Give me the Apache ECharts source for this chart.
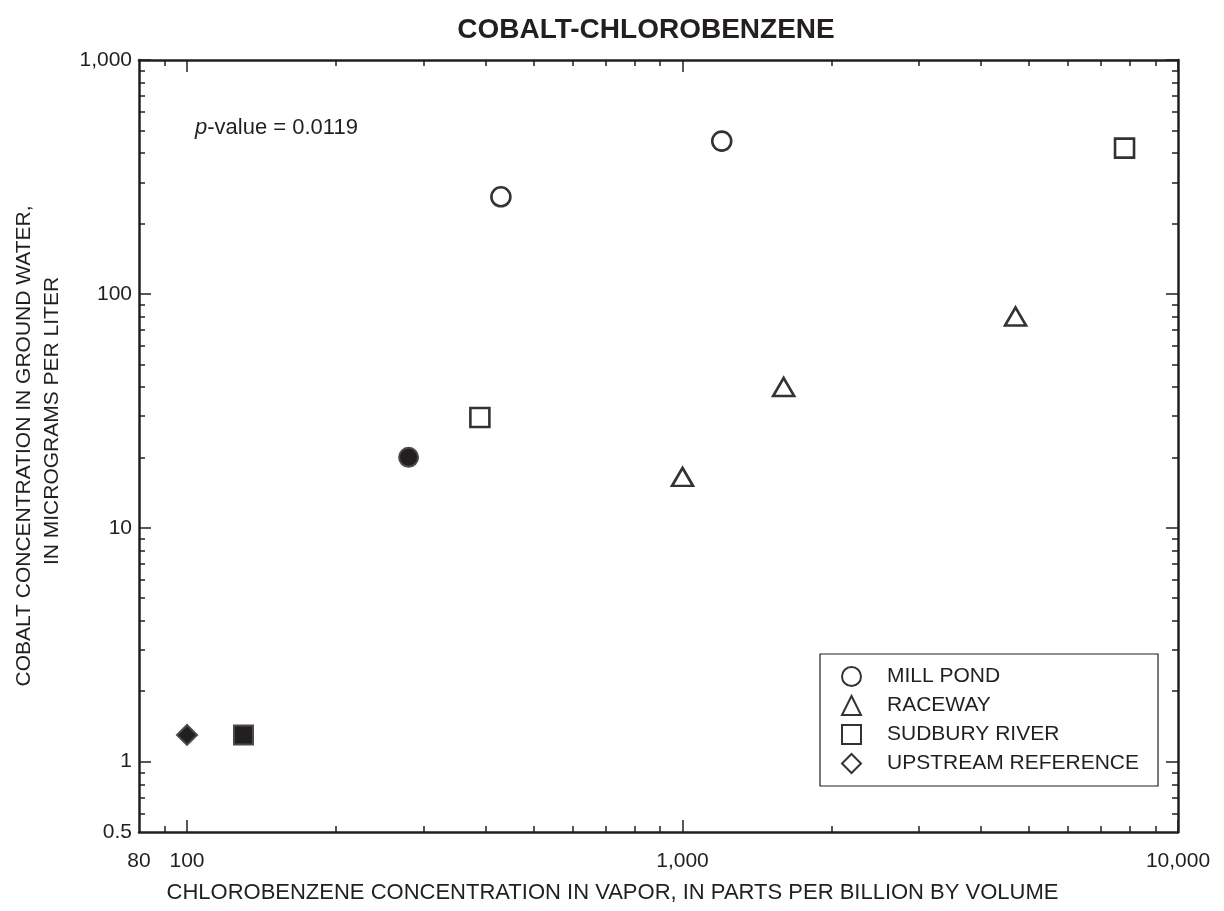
<!DOCTYPE html>
<html>
<head>
<meta charset="utf-8">
<title>COBALT-CHLOROBENZENE</title>
<script src="https://cdn.jsdelivr.net/npm/echarts@6/dist/echarts.min.js"></script>
<style>
  html, body { margin: 0; padding: 0; background: #fff; }
  #chart { width: 1224px; height: 911px; }
</style>
</head>
<body>
<div id="chart"></div>
<script>
// 軸刻度
const xLabelValues = [80, 100, 1000, 10000]
const xMajorTicks = [100, 1000, 10000]
const xMinorTicks = [90, 200, 300, 400, 500, 600, 700, 800, 900,
  2000, 3000, 4000, 5000, 6000, 7000, 8000, 9000]
const yLabelValues = [0.5, 1, 10, 100, 1000]
const yMajorTicks = [1, 10, 100, 1000]
const yMinorTicks = [0.6, 0.7, 0.8, 0.9, 2, 3, 4, 5, 6, 7, 8, 9,
  20, 30, 40, 50, 60, 70, 80, 90, 200, 300, 400, 500, 600, 700, 800, 900]

// 資料點 (x = chlorobenzene ppbv, y = cobalt ug/L)
const millPondX = [430, 1200]
const millPondY = [260, 450]
const millPondFilledX = [280]
const millPondFilledY = [20]
const racewayX = [1000, 1600, 4700]
const racewayY = [16.5, 40, 80]
const sudburyX = [390, 7800]
const sudburyY = [29.6, 420]
const sudburyFilledX = [130]
const sudburyFilledY = [1.3]
const upstreamFilledX = [100]
const upstreamFilledY = [1.3]

const ink = '#231f20'
const font = 'Liberation Sans, Arial, Helvetica, sans-serif'

const fmt = v => Number(v).toLocaleString('en-US')

const openStyle = { color: '#fff', borderColor: '#333', borderWidth: 2.6, opacity: 1 }
const filledStyle = { color: ink, borderColor: '#4a4a4a', borderWidth: 2, opacity: 1 }

const pairs = (xs, ys) => xs.map((x, i) => [x, ys[i]])
const filled = (xs, ys) => xs.map((x, i) => ({ value: [x, ys[i]], itemStyle: filledStyle }))

// 建立一條對數軸 (主刻度或次刻度)
const makeAxis = (position, min, max, ticks, len, opts) => Object.assign({
  type: 'log',
  logBase: 10,
  position: position,
  min: min,
  max: max,
  gridIndex: 0,
  splitLine: { show: false },
  axisLine: { show: false },
  axisTick: {
    show: true,
    inside: true,
    length: len,
    customValues: ticks,
    lineStyle: { color: ink, width: 1.5 }
  },
  axisLabel: { show: false },
  minorTick: { show: false }
}, opts || {})

const boldLine = { show: true, lineStyle: { color: ink, width: 2.5 } }

const chart = echarts.init(document.getElementById('chart'))

const option = {
  backgroundColor: '#fff',
  animation: false,
  title: [
    {
      text: 'COBALT-CHLOROBENZENE',
      left: 641,
      textAlign: 'center',
      top: 11,
      textStyle: { fontFamily: font, fontSize: 28, fontWeight: 'bold', color: ink }
    },
    {
      text: '{i|p}{n|-value = 0.0119}',
      left: 190,
      top: 112,
      textStyle: {
        fontWeight: 'normal',
        rich: {
          i: { fontFamily: font, fontSize: 22, fontStyle: 'italic', fontWeight: 'normal', color: ink },
          n: { fontFamily: font, fontSize: 22, fontWeight: 'normal', color: ink }
        }
      }
    }
  ],
  grid: { left: 139, right: 46, top: 60, bottom: 79, containLabel: false },
  legend: {
    orient: 'vertical',
    left: 820,
    top: 654,
    padding: [12, 19, 12, 21],
    itemWidth: 19,
    itemHeight: 19,
    itemGap: 8,
    symbolKeepAspect: true,
    borderColor: ink,
    borderWidth: 1.2,
    backgroundColor: '#fff',
    selectedMode: false,
    textStyle: { fontFamily: font, fontSize: 21, color: ink, lineHeight: 19, padding: [0, 0, 0, 21] },
    data: ['MILL POND', 'RACEWAY', 'SUDBURY RIVER', 'UPSTREAM REFERENCE']
  },
  xAxis: [
    makeAxis('bottom', 80, 10000, xMajorTicks, 12, {
      axisLine: boldLine,
      axisLabel: {
        show: true,
        customValues: xLabelValues,
        formatter: fmt,
        margin: 19,
        fontFamily: font,
        fontSize: 21,
        color: ink
      },
      name: 'CHLOROBENZENE CONCENTRATION IN VAPOR, IN PARTS PER BILLION BY VOLUME',
      nameLocation: 'middle',
      nameGap: 50,
      nameTextStyle: { fontFamily: font, fontSize: 22, color: ink, padding: [0, 92, 0, 0] }
    }),
    makeAxis('bottom', 80, 10000, xMinorTicks, 6),
    makeAxis('top', 80, 10000, xMajorTicks, 12, { axisLine: boldLine }),
    makeAxis('top', 80, 10000, xMinorTicks, 6)
  ],
  yAxis: [
    makeAxis('left', 0.5, 1000, yMajorTicks, 12, {
      axisLine: boldLine,
      axisLabel: {
        show: true,
        customValues: yLabelValues,
        formatter: fmt,
        margin: 7,
        fontFamily: font,
        fontSize: 21,
        color: ink
      },
      name: 'COBALT CONCENTRATION IN GROUND WATER,',
      nameLocation: 'middle',
      nameRotate: 90,
      nameGap: 101,
      nameTextStyle: { fontFamily: font, fontSize: 21, color: ink, lineHeight: 28 }
    }),
    makeAxis('left', 0.5, 1000, yMinorTicks, 6, {
      name: 'IN MICROGRAMS PER LITER',
      nameLocation: 'middle',
      nameRotate: 90,
      nameGap: 73,
      nameTextStyle: { fontFamily: font, fontSize: 21, color: ink, lineHeight: 28, padding: [0, 0, 0, 50] }
    }),
    makeAxis('right', 0.5, 1000, yMajorTicks, 12, { axisLine: boldLine }),
    makeAxis('right', 0.5, 1000, yMinorTicks, 6)
  ],
  series: [
    {
      name: 'MILL POND',
      type: 'scatter',
      symbol: 'circle',
      symbolSize: 19,
      itemStyle: openStyle,
      data: pairs(millPondX, millPondY).concat(filled(millPondFilledX, millPondFilledY))
    },
    {
      name: 'RACEWAY',
      type: 'scatter',
      symbol: 'triangle',
      symbolSize: [21, 18],
      itemStyle: openStyle,
      data: pairs(racewayX, racewayY)
    },
    {
      name: 'SUDBURY RIVER',
      type: 'scatter',
      symbol: 'rect',
      symbolSize: 19,
      itemStyle: openStyle,
      data: pairs(sudburyX, sudburyY).concat(filled(sudburyFilledX, sudburyFilledY))
    },
    {
      name: 'UPSTREAM REFERENCE',
      type: 'scatter',
      symbol: 'diamond',
      symbolSize: 20,
      itemStyle: openStyle,
      data: filled(upstreamFilledX, upstreamFilledY)
    }
  ]
}

chart.setOption(option)
</script>
</body>
</html>
